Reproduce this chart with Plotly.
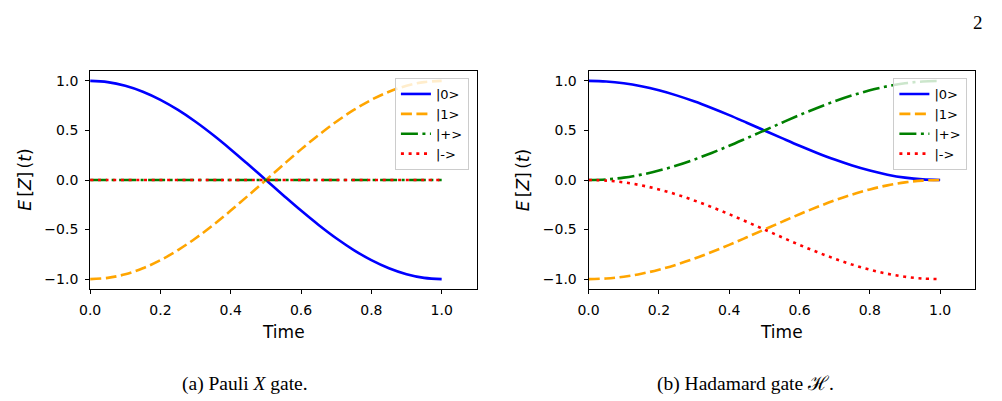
import plotly.graph_objects as go

# Time samples
t = [0.0, 0.05, 0.1, 0.15, 0.2, 0.25, 0.3, 0.35, 0.4, 0.45, 0.5,
     0.55, 0.6, 0.65, 0.7, 0.75, 0.8, 0.85, 0.9, 0.95, 1.0]

# (a) Pauli X gate
pauli_0 = [1.0, 0.988, 0.951, 0.891, 0.809, 0.707, 0.588, 0.454, 0.309, 0.156, 0.0,
           -0.156, -0.309, -0.454, -0.588, -0.707, -0.809, -0.891, -0.951, -0.988, -1.0]
pauli_1 = [-1.0, -0.988, -0.951, -0.891, -0.809, -0.707, -0.588, -0.454, -0.309, -0.156, 0.0,
           0.156, 0.309, 0.454, 0.588, 0.707, 0.809, 0.891, 0.951, 0.988, 1.0]
pauli_plus = [0.0] * 21
pauli_minus = [0.0] * 21

# (b) Hadamard gate
had_0 = [1.0, 0.994, 0.976, 0.946, 0.905, 0.854, 0.794, 0.727, 0.655, 0.578, 0.5,
         0.422, 0.345, 0.273, 0.206, 0.146, 0.095, 0.054, 0.024, 0.006, 0.0]
had_1 = [-1.0, -0.994, -0.976, -0.946, -0.905, -0.854, -0.794, -0.727, -0.655, -0.578, -0.5,
         -0.422, -0.345, -0.273, -0.206, -0.146, -0.095, -0.054, -0.024, -0.006, 0.0]
had_plus = [0.0, 0.006, 0.024, 0.054, 0.095, 0.146, 0.206, 0.273, 0.345, 0.422, 0.5,
            0.578, 0.655, 0.727, 0.794, 0.854, 0.905, 0.946, 0.976, 0.994, 1.0]
had_minus = [0.0, -0.006, -0.024, -0.054, -0.095, -0.146, -0.206, -0.273, -0.345, -0.422, -0.5,
             -0.578, -0.655, -0.727, -0.794, -0.854, -0.905, -0.946, -0.976, -0.994, -1.0]

labels = ["|0>", "|1>", "|+>", "|->"]
colors = ["#0000ff", "#ffa500", "#008000", "#ff0000"]
dashes = ["solid", "11px,4.5px", "17px,4.5px,3px,4.5px", "3px,4.7px"]
x_ticks = [0.0, 0.2, 0.4, 0.6, 0.8, 1.0]
y_ticks = [-1.0, -0.5, 0.0, 0.5, 1.0]

W, H = 1002, 401
fig = go.Figure()

panels = [
    ("x", "y", "legend", [pauli_0, pauli_1, pauli_plus, pauli_minus]),
    ("x2", "y2", "legend2", [had_0, had_1, had_plus, had_minus]),
]
for xa, ya, lg, series in panels:
    for lab, col, dsh, ys in zip(labels, colors, dashes, series):
        fig.add_trace(go.Scatter(
            x=t, y=ys, mode="lines", name=lab, xaxis=xa, yaxis=ya, legend=lg,
            line=dict(color=col, width=2.6, dash=dsh, shape="spline"),
        ))

tick_font = dict(family="DejaVu Sans", size=14, color="black")
axis_common = dict(showline=True, linecolor="black", linewidth=1, mirror=True,
                   ticks="outside", ticklen=4, tickwidth=1, tickcolor="black",
                   showgrid=False, zeroline=False, tickfont=tick_font,
                   tickformat=".1f", range=[-1.1, 1.1])

y0 = (H - 289) / H
y1 = (H - 71) / H
dl = [80 / W, 471 / W]
dr = [584 / W, 975 / W]

xcommon = dict(axis_common, range=[0, 1.1], tickvals=x_ticks, ticklabelstandoff=4)
ycommon = dict(axis_common, tickvals=y_ticks, ticklabelstandoff=4)

legend_common = dict(xanchor="right", yanchor="top",
                     bgcolor="rgba(255,255,255,0.8)", bordercolor="#cccccc", borderwidth=1,
                     font=dict(family="DejaVu Sans", size=13, color="black"),
                     itemwidth=30, tracegroupgap=0)

fig.update_layout(
    width=W, height=H, margin=dict(l=0, r=0, t=0, b=0),
    paper_bgcolor="white", plot_bgcolor="white",
    xaxis=dict(xcommon, domain=dl, anchor="y"),
    yaxis=dict(ycommon, domain=[y0, y1], anchor="x"),
    xaxis2=dict(xcommon, domain=dr, anchor="y2"),
    yaxis2=dict(ycommon, domain=[y0, y1], anchor="x2"),
    legend=dict(legend_common, x=463 / W, y=(H - 78) / H),
    legend2=dict(legend_common, x=967 / W, y=(H - 78) / H),
)

label_font = dict(family="DejaVu Sans", size=17, color="black")
ann = []
for cx, lx in [((80 + 471) / 2, 14), ((584 + 975) / 2, 518)]:
    ann.append(dict(text="Time", x=cx / W, y=(H - 332) / H, xref="paper", yref="paper",
                    showarrow=False, font=label_font, xanchor="center", yanchor="middle"))
    ann.append(dict(text="<i>E</i>\u2009[<i>Z</i>]\u2009(<i>t</i>)", x=lx / W, y=(H - 180) / H,
                    xref="paper", yref="paper", showarrow=False, font=label_font,
                    textangle=-90, xanchor="center", yanchor="middle"))
cap_font = dict(family="Liberation Serif", size=19.5, color="black")
ann.append(dict(text="(a) Pauli <i>X</i> gate.", x=237 / W, y=(H - 384) / H, xref="paper", yref="paper",
                showarrow=False, font=cap_font, xanchor="center", yanchor="middle"))
ann.append(dict(text="(b) Hadamard gate \u210B.", x=743 / W, y=(H - 384) / H, xref="paper", yref="paper",
                showarrow=False, font=cap_font, xanchor="center", yanchor="middle"))
ann.append(dict(text="2", x=978 / W, y=(H - 22) / H, xref="paper", yref="paper",
                showarrow=False, font=dict(family="Liberation Serif", size=19, color="black"),
                xanchor="center", yanchor="middle"))
fig.update_layout(annotations=ann)

fig.write_html("out.html")
